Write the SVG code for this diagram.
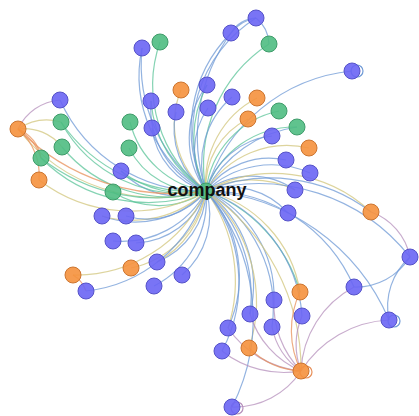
<svg xmlns="http://www.w3.org/2000/svg" width="419" height="416" viewBox="0 0 419 416">
<style>
.e{fill:none;stroke-width:1.2;stroke-opacity:0.75}
.b{stroke:#6f9ad6}.g{stroke:#5cc49a}.y{stroke:#d2c67c}.p{stroke:#b690bc}.o{stroke:#e8905a}
.n{stroke-width:1;fill-opacity:0.9}
.nb{fill:#6a65f4;stroke:#5552c8}.ng{fill:#4fbd82;stroke:#3f9c6a}.no{fill:#f5913d;stroke:#cc7530}
.loop{fill:none;stroke-width:1.2}
.lbl{font-family:"Liberation Sans",Arial,sans-serif;font-weight:bold;font-size:18px;fill:#111;text-anchor:middle}
</style>
<rect width="419" height="416" fill="#fff"/>
<g id="connectors">
<path class="e b" d="M206 191A133 133 0 0 1 142 48"/>
<path class="e b" d="M206 191A157 157 0 0 1 142 48"/>
<path class="e g" d="M206 191A132 132 0 0 1 160 42"/>
<path class="e b" d="M206 191A136 136 0 0 1 231 33"/>
<path class="e b" d="M206 191A176 176 0 0 1 231 33"/>
<path class="e b" d="M206 191A135 135 0 0 1 256 18"/>
<path class="e g" d="M206 191A144 144 0 0 1 269 44"/>
<path class="e b" d="M206 191A170 170 0 0 1 352 71"/>
<path class="e y" d="M206 191A88 88 0 0 1 181 90"/>
<path class="e b" d="M206 191A90 90 0 0 1 207 85"/>
<path class="e g" d="M206 191A117 117 0 0 1 207 85"/>
<path class="e b" d="M206 191A88 88 0 0 1 232 97"/>
<path class="e y" d="M206 191A95 95 0 0 1 257 98"/>
<path class="e b" d="M206 191A90 90 0 0 1 151 101"/>
<path class="e g" d="M206 191A116 116 0 0 1 151 101"/>
<path class="e b" d="M206 191A76 76 0 0 1 176 112"/>
<path class="e b" d="M206 191A75 75 0 0 1 208 108"/>
<path class="e g" d="M206 191A92 92 0 0 1 279 111"/>
<path class="e y" d="M206 191A75 75 0 0 1 248 119"/>
<path class="e b" d="M206 191A75 75 0 0 1 152 128"/>
<path class="e g" d="M206 191A92 92 0 0 1 130 122"/>
<path class="e g" d="M206 191A94 94 0 0 1 297 127"/>
<path class="e b" d="M206 191A122 122 0 0 1 297 127"/>
<path class="e b" d="M206 191A77 77 0 0 1 272 136"/>
<path class="e g" d="M206 191A79 79 0 0 1 129 148"/>
<path class="e y" d="M206 191A95 95 0 0 1 309 148"/>
<path class="e b" d="M206 191A77 77 0 0 1 286 160"/>
<path class="e b" d="M206 191A79 79 0 0 1 121 171"/>
<path class="e g" d="M206 191A105 105 0 0 1 121 171"/>
<path class="e b" d="M206 191A95 95 0 0 1 310 173"/>
<path class="e b" d="M206 191A76 76 0 0 1 295 190"/>
<path class="e y" d="M206 191A98 98 0 0 1 295 190"/>
<path class="e g" d="M206 191A84 84 0 0 1 113 192"/>
<path class="e b" d="M206 191A155 155 0 0 1 60 100"/>
<path class="e g" d="M206 191A137 137 0 0 1 61 122"/>
<path class="e g" d="M206 191A161 161 0 0 1 61 122"/>
<path class="e g" d="M206 191A136 136 0 0 1 62 147"/>
<path class="e y" d="M206 191A178 178 0 0 1 18 129"/>
<path class="e o" d="M206 191A218 218 0 0 1 18 129"/>
<path class="e g" d="M206 191A151 151 0 0 1 41 158"/>
<path class="e g" d="M206 191A185 185 0 0 1 41 158"/>
<path class="e y" d="M206 191A151 151 0 0 1 39 180"/>
<path class="e b" d="M206 191A77 77 0 0 1 288 213"/>
<path class="e y" d="M206 191A141 141 0 0 1 371 212"/>
<path class="e b" d="M206 191A166 166 0 0 1 371 212"/>
<path class="e b" d="M206 191A96 96 0 0 1 102 216"/>
<path class="e y" d="M206 191A107 107 0 0 1 102 216"/>
<path class="e b" d="M206 191A75 75 0 0 1 126 216"/>
<path class="e b" d="M206 191A95 95 0 0 1 113 241"/>
<path class="e b" d="M206 191A78 78 0 0 1 136 243"/>
<path class="e b" d="M206 191A78 78 0 0 1 157 262"/>
<path class="e y" d="M206 191A95 95 0 0 1 157 262"/>
<path class="e y" d="M206 191A97 97 0 0 1 131 268"/>
<path class="e y" d="M206 191A142 142 0 0 1 73 275"/>
<path class="e b" d="M206 191A141 141 0 0 1 86 291"/>
<path class="e b" d="M206 191A79 79 0 0 1 182 275"/>
<path class="e b" d="M206 191A97 97 0 0 1 154 286"/>
<path class="e b" d="M206 191A193 193 0 0 1 410 257"/>
<path class="e b" d="M206 191A159 159 0 0 1 354 287"/>
<path class="e b" d="M206 191A213 213 0 0 1 389 320"/>
<path class="e y" d="M206 191A124 124 0 0 1 300 292"/>
<path class="e g" d="M206 191A152 152 0 0 1 300 292"/>
<path class="e b" d="M206 191A116 116 0 0 1 274 300"/>
<path class="e b" d="M206 191A118 118 0 0 1 250 314"/>
<path class="e b" d="M206 191A144 144 0 0 1 250 314"/>
<path class="e b" d="M206 191A142 142 0 0 1 302 316"/>
<path class="e b" d="M206 191A136 136 0 0 1 272 327"/>
<path class="e b" d="M206 191A125 125 0 0 1 228 328"/>
<path class="e y" d="M206 191A153 153 0 0 1 228 328"/>
<path class="e b" d="M206 191A145 145 0 0 1 222 351"/>
<path class="e y" d="M206 191A147 147 0 0 1 249 348"/>
<path class="e y" d="M206 191A214 214 0 0 1 301 371"/>
<path class="e b" d="M206 191A196 196 0 0 1 232 407"/>
<path class="e p" d="M18 129A51 51 0 0 1 60 100"/>
<path class="e y" d="M18 129A52 52 0 0 1 61 122"/>
<path class="e y" d="M18 129A48 48 0 0 1 62 147"/>
<path class="e o" d="M18 129A37 37 0 0 1 41 158"/>
<path class="e o" d="M18 129A52 52 0 0 1 41 158"/>
<path class="e o" d="M18 129A60 60 0 0 1 39 180"/>
<path class="e o" d="M73 275A30 30 0 0 1 86 291"/>
<path class="e b" d="M231 33A30 30 0 0 1 256 18"/>
<path class="e b" d="M231 33A40 40 0 0 1 256 18"/>
<path class="e b" d="M256 18A35 35 0 0 1 269 44"/>
<path class="e p" d="M371 212A60 60 0 0 1 410 257"/>
<path class="e b" d="M410 257A64 64 0 0 1 354 287"/>
<path class="e b" d="M389 320A66 66 0 0 1 410 257"/>
<path class="e p" d="M301 371A100 100 0 0 1 222 351"/>
<path class="e p" d="M301 371A100 100 0 0 1 228 328"/>
<path class="e p" d="M301 371A90 90 0 0 1 250 314"/>
<path class="e p" d="M301 371A70 70 0 0 1 272 327"/>
<path class="e p" d="M301 371A95 95 0 0 1 274 300"/>
<path class="e p" d="M301 371A75 75 0 0 1 302 316"/>
<path class="e p" d="M301 371A100 100 0 0 1 354 287"/>
<path class="e p" d="M301 371A110 110 0 0 1 389 320"/>
<path class="e p" d="M301 371A80 80 0 0 1 232 407"/>
<path class="e o" d="M301 371A80 80 0 0 1 249 348"/>
<path class="e o" d="M301 371A90 90 0 0 1 300 292"/>
<circle class="loop b" cx="357" cy="71" r="6"/>
<circle class="loop b" cx="394" cy="321" r="6"/>
<circle class="loop o" cx="306" cy="372" r="6"/>
<circle class="loop p" cx="237" cy="408" r="6"/>
</g>
<g id="n_blue_142_48"><circle class="n nb" cx="142" cy="48" r="8"/></g>
<g id="n_green_160_42"><circle class="n ng" cx="160" cy="42" r="8"/></g>
<g id="n_blue_231_33"><circle class="n nb" cx="231" cy="33" r="8"/></g>
<g id="n_blue_256_18"><circle class="n nb" cx="256" cy="18" r="8"/></g>
<g id="n_green_269_44"><circle class="n ng" cx="269" cy="44" r="8"/></g>
<g id="n_blue_352_71"><circle class="n nb" cx="352" cy="71" r="8"/></g>
<g id="n_orange_181_90"><circle class="n no" cx="181" cy="90" r="8"/></g>
<g id="n_blue_207_85"><circle class="n nb" cx="207" cy="85" r="8"/></g>
<g id="n_blue_232_97"><circle class="n nb" cx="232" cy="97" r="8"/></g>
<g id="n_orange_257_98"><circle class="n no" cx="257" cy="98" r="8"/></g>
<g id="n_blue_151_101"><circle class="n nb" cx="151" cy="101" r="8"/></g>
<g id="n_blue_176_112"><circle class="n nb" cx="176" cy="112" r="8"/></g>
<g id="n_blue_208_108"><circle class="n nb" cx="208" cy="108" r="8"/></g>
<g id="n_green_279_111"><circle class="n ng" cx="279" cy="111" r="8"/></g>
<g id="n_orange_248_119"><circle class="n no" cx="248" cy="119" r="8"/></g>
<g id="n_blue_152_128"><circle class="n nb" cx="152" cy="128" r="8"/></g>
<g id="n_green_130_122"><circle class="n ng" cx="130" cy="122" r="8"/></g>
<g id="n_green_297_127"><circle class="n ng" cx="297" cy="127" r="8"/></g>
<g id="n_blue_272_136"><circle class="n nb" cx="272" cy="136" r="8"/></g>
<g id="n_green_129_148"><circle class="n ng" cx="129" cy="148" r="8"/></g>
<g id="n_orange_309_148"><circle class="n no" cx="309" cy="148" r="8"/></g>
<g id="n_blue_286_160"><circle class="n nb" cx="286" cy="160" r="8"/></g>
<g id="n_blue_121_171"><circle class="n nb" cx="121" cy="171" r="8"/></g>
<g id="n_blue_310_173"><circle class="n nb" cx="310" cy="173" r="8"/></g>
<g id="n_blue_295_190"><circle class="n nb" cx="295" cy="190" r="8"/></g>
<g id="n_green_113_192"><circle class="n ng" cx="113" cy="192" r="8"/></g>
<g id="n_blue_60_100"><circle class="n nb" cx="60" cy="100" r="8"/></g>
<g id="n_green_61_122"><circle class="n ng" cx="61" cy="122" r="8"/></g>
<g id="n_green_62_147"><circle class="n ng" cx="62" cy="147" r="8"/></g>
<g id="n_orange_18_129"><circle class="n no" cx="18" cy="129" r="8"/></g>
<g id="n_green_41_158"><circle class="n ng" cx="41" cy="158" r="8"/></g>
<g id="n_orange_39_180"><circle class="n no" cx="39" cy="180" r="8"/></g>
<g id="n_blue_288_213"><circle class="n nb" cx="288" cy="213" r="8"/></g>
<g id="n_orange_371_212"><circle class="n no" cx="371" cy="212" r="8"/></g>
<g id="n_blue_102_216"><circle class="n nb" cx="102" cy="216" r="8"/></g>
<g id="n_blue_126_216"><circle class="n nb" cx="126" cy="216" r="8"/></g>
<g id="n_blue_113_241"><circle class="n nb" cx="113" cy="241" r="8"/></g>
<g id="n_blue_136_243"><circle class="n nb" cx="136" cy="243" r="8"/></g>
<g id="n_blue_157_262"><circle class="n nb" cx="157" cy="262" r="8"/></g>
<g id="n_orange_131_268"><circle class="n no" cx="131" cy="268" r="8"/></g>
<g id="n_orange_73_275"><circle class="n no" cx="73" cy="275" r="8"/></g>
<g id="n_blue_86_291"><circle class="n nb" cx="86" cy="291" r="8"/></g>
<g id="n_blue_182_275"><circle class="n nb" cx="182" cy="275" r="8"/></g>
<g id="n_blue_154_286"><circle class="n nb" cx="154" cy="286" r="8"/></g>
<g id="n_blue_410_257"><circle class="n nb" cx="410" cy="257" r="8"/></g>
<g id="n_blue_354_287"><circle class="n nb" cx="354" cy="287" r="8"/></g>
<g id="n_blue_389_320"><circle class="n nb" cx="389" cy="320" r="8"/></g>
<g id="n_orange_300_292"><circle class="n no" cx="300" cy="292" r="8"/></g>
<g id="n_blue_274_300"><circle class="n nb" cx="274" cy="300" r="8"/></g>
<g id="n_blue_250_314"><circle class="n nb" cx="250" cy="314" r="8"/></g>
<g id="n_blue_302_316"><circle class="n nb" cx="302" cy="316" r="8"/></g>
<g id="n_blue_272_327"><circle class="n nb" cx="272" cy="327" r="8"/></g>
<g id="n_blue_228_328"><circle class="n nb" cx="228" cy="328" r="8"/></g>
<g id="n_blue_222_351"><circle class="n nb" cx="222" cy="351" r="8"/></g>
<g id="n_orange_249_348"><circle class="n no" cx="249" cy="348" r="8"/></g>
<g id="n_orange_301_371"><circle class="n no" cx="301" cy="371" r="8"/></g>
<g id="n_blue_232_407"><circle class="n nb" cx="232" cy="407" r="8"/></g>
<g id="n_company"><circle class="n ng" cx="206" cy="191" r="8"/><text class="lbl" x="207" y="196">company</text></g>
</svg>
